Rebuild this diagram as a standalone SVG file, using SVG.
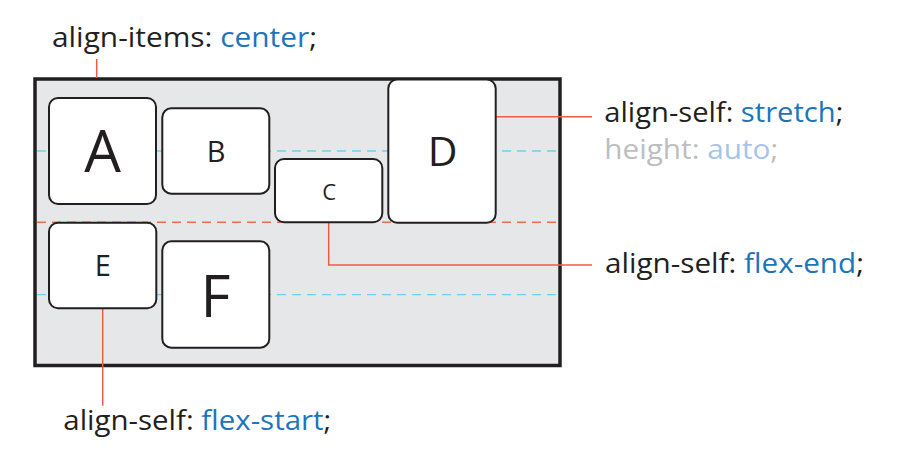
<svg xmlns="http://www.w3.org/2000/svg" width="897" height="467" viewBox="0 0 897 467">
<style>
.lbl{font-family:"Open Sans","Noto Sans","Liberation Sans",sans-serif;font-size:27px;fill:#231f20}
.blue{fill:#1c75bc}
.gray{fill:#bcbec0}
.lblue{fill:#a9c3e8}
.box{fill:#ffffff;stroke:#231f20;stroke-width:2}
.let{font-family:"Open Sans","Noto Sans","Liberation Sans",sans-serif;fill:#231f20;text-anchor:middle}
.dashb{stroke:#6dcff6;stroke-width:1.3;stroke-dasharray:9 6;fill:none}
.dashr{stroke:#f26c50;stroke-width:1.5;stroke-dasharray:9 6;fill:none}
.con{stroke:#ef5b44;stroke-width:1.5;fill:none}
</style>
<rect width="897" height="467" fill="#ffffff"/>
<g id="container">
<rect x="35" y="79" width="525" height="286.5" fill="#e6e7e8" stroke="#231f20" stroke-width="3.5"/>
</g>
<g id="guides">
<line class="dashb" x1="37" y1="151" x2="558" y2="151"/>
<line class="dashr" x1="37" y1="222.3" x2="558" y2="222.3"/>
<line class="dashb" x1="37" y1="294.7" x2="558" y2="294.7"/>
</g>
<g id="connectors">
<line class="con" x1="96.7" y1="59" x2="96.7" y2="78"/>
<line class="con" x1="496" y1="116.7" x2="592" y2="116.7"/>
<polyline class="con" points="328.7,223 328.7,265 592,265"/>
<line class="con" x1="102.7" y1="308.5" x2="102.7" y2="405.7"/>
</g>
<g id="nodeA"><rect class="box" x="49" y="98" width="107" height="106" rx="9"/><text class="let" x="102.7" y="171.7" font-size="58">A</text></g>
<g id="nodeB"><rect class="box" x="162.3" y="108.3" width="107" height="85.4" rx="9"/><text class="let" x="216" y="162.3" font-size="29">B</text></g>
<g id="nodeC"><rect class="box" x="275" y="159" width="107.3" height="63.3" rx="9"/><text class="let" x="329.3" y="200" font-size="22">C</text></g>
<g id="nodeD"><rect class="box" x="388.3" y="79.5" width="107.4" height="143.3" rx="9"/><text class="let" x="442.5" y="165.7" font-size="41">D</text></g>
<g id="nodeE"><rect class="box" x="49" y="222.7" width="107.3" height="85.6" rx="9"/><text class="let" x="102.7" y="275.7" font-size="29">E</text></g>
<g id="nodeF"><rect class="box" x="162.3" y="241.3" width="107" height="106.4" rx="9"/><text class="let" x="215.5" y="316.7" font-size="58">F</text></g>
<g id="labels">
<text class="lbl" x="52" y="47" textLength="265" lengthAdjust="spacingAndGlyphs">align-items: <tspan class="blue">center</tspan>;</text>
<text class="lbl" x="604.3" y="122.3" textLength="239" lengthAdjust="spacingAndGlyphs">align-self: <tspan class="blue">stretch</tspan>;</text>
<text class="lbl gray" x="604.3" y="159.3" textLength="174" lengthAdjust="spacingAndGlyphs">height: <tspan class="lblue">auto</tspan>;</text>
<text class="lbl" x="605" y="273.3" textLength="259" lengthAdjust="spacingAndGlyphs">align-self: <tspan class="blue">flex-end</tspan>;</text>
<text class="lbl" x="63.3" y="430" textLength="268" lengthAdjust="spacingAndGlyphs">align-self: <tspan class="blue">flex-start</tspan>;</text>
</g>
</svg>
